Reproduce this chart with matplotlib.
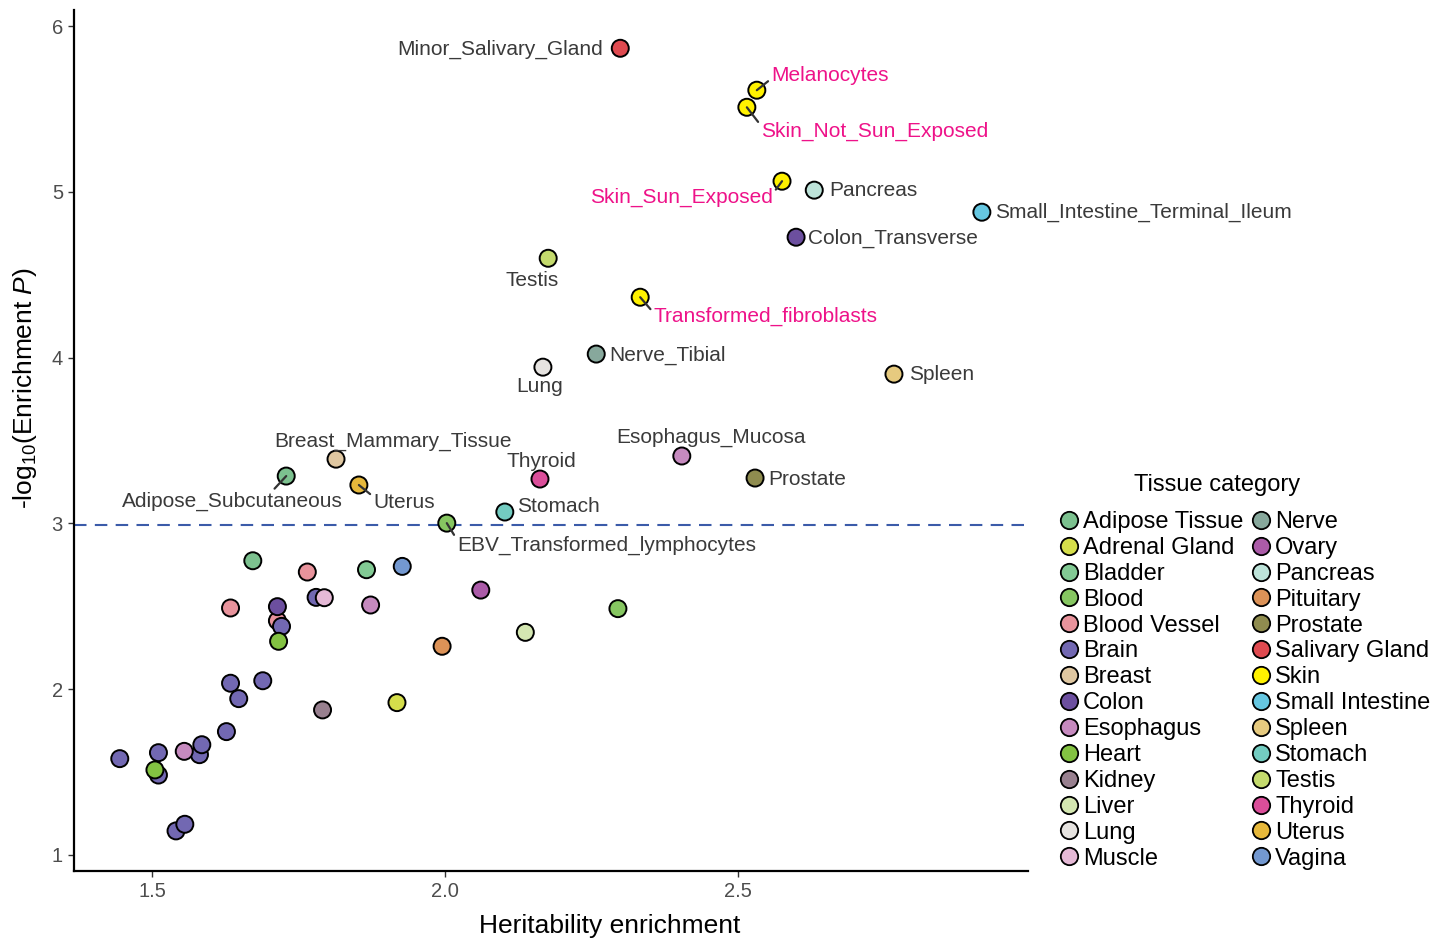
import pandas as pd
import matplotlib
matplotlib.use("Agg")
import matplotlib.pyplot as plt
from matplotlib.lines import Line2D

plt.rcParams["font.family"] = ["Liberation Sans", "DejaVu Sans"]
plt.rcParams["mathtext.fontset"] = "custom"
plt.rcParams["mathtext.rm"] = "Liberation Sans"
plt.rcParams["mathtext.it"] = "Liberation Sans:italic"

# Tissue categories and their fill colours (legend order)
categories = [
    "Adipose Tissue", "Adrenal Gland", "Bladder", "Blood", "Blood Vessel", "Brain",
    "Breast", "Colon", "Esophagus", "Heart", "Kidney", "Liver", "Lung", "Muscle",
    "Nerve", "Ovary", "Pancreas", "Pituitary", "Prostate", "Salivary Gland", "Skin",
    "Small Intestine", "Spleen", "Stomach", "Testis", "Thyroid", "Uterus", "Vagina",
]
cat_colors = [
    "#7CC18F", "#D5DE4B", "#82CA94", "#86C661", "#E8939C", "#7268B2",
    "#DFC7A1", "#6C4F9F", "#C68ABF", "#83C242", "#98808F", "#D4E7B1",
    "#E6E3E0", "#E5B9D6", "#87A89C", "#AB5BA8", "#BDE3D9", "#DC9257",
    "#8F8C4F", "#DF4A50", "#FFF100", "#66C7E1", "#E6CA7F", "#73CCC1",
    "#C4DA6D", "#DB4E9A", "#E6B83B", "#7398D0",
]

# Points: tissue category, heritability enrichment, -log10(P), label
tissue_cat = [
    "Salivary Gland", "Skin", "Skin", "Skin", "Pancreas", "Small Intestine", "Colon",
    "Testis", "Skin", "Nerve", "Lung", "Spleen", "Esophagus", "Breast", "Prostate",
    "Thyroid", "Adipose Tissue", "Uterus", "Stomach", "Blood",
    "Adipose Tissue", "Bladder", "Blood Vessel", "Blood Vessel", "Blood Vessel",
    "Vagina", "Colon",
    "Brain", "Brain", "Brain", "Brain", "Brain", "Brain", "Brain", "Brain", "Brain",
    "Brain", "Brain", "Brain", "Brain",
    "Heart", "Heart", "Muscle", "Esophagus", "Esophagus", "Pituitary", "Kidney",
    "Adrenal Gland", "Ovary", "Blood", "Liver",
]
enrichment = [
    2.299, 2.532, 2.515, 2.575, 2.630, 2.916, 2.599,
    2.176, 2.333, 2.258, 2.167, 2.766, 2.404, 1.814, 2.529,
    2.162, 1.729, 1.853, 2.102, 2.003,
    1.672, 1.866, 1.765, 1.634, 1.714,
    1.927, 1.714,
    1.721, 1.780, 1.634, 1.689, 1.648, 1.627, 1.445, 1.511, 1.581,
    1.585, 1.511, 1.541, 1.556,
    1.716, 1.505, 1.794, 1.873, 1.555, 1.995, 1.791,
    1.918, 2.061, 2.295, 2.137,
]
neglogp = [
    5.867, 5.614, 5.511, 5.065, 5.011, 4.878, 4.727,
    4.600, 4.365, 4.022, 3.943, 3.901, 3.407, 3.388, 3.274,
    3.268, 3.286, 3.232, 3.069, 3.002,
    2.775, 2.721, 2.707, 2.490, 2.413,
    2.741, 2.498,
    2.379, 2.554, 2.036, 2.051, 1.943, 1.744, 1.581, 1.617, 1.605,
    1.665, 1.482, 1.145, 1.185,
    2.289, 1.513, 2.552, 2.508, 1.625, 2.259, 1.875,
    1.919, 2.598, 2.486, 2.343,
]
labels = [
    "Minor_Salivary_Gland", "Melanocytes", "Skin_Not_Sun_Exposed", "Skin_Sun_Exposed",
    "Pancreas", "Small_Intestine_Terminal_Ileum", "Colon_Transverse",
    "Testis", "Transformed_fibroblasts", "Nerve_Tibial", "Lung", "Spleen",
    "Esophagus_Mucosa", "Breast_Mammary_Tissue", "Prostate",
    "Thyroid", "Adipose_Subcutaneous", "Uterus", "Stomach", "EBV_Transformed_lymphocytes",
] + [""] * 31

threshold = 2.99
x_ticks = [1.5, 2.0, 2.5]
y_ticks = [1, 2, 3, 4, 5, 6]

# Label placement: offset in pixels, alignment, leader-line attach point (None = no line)
label_layout = {
    "Minor_Salivary_Gland": (-17, -1, "right", None),
    "Melanocytes": (14, 15, "left", (0, 0.3)),
    "Skin_Not_Sun_Exposed": (14, -24, "left", (0, 0.8)),
    "Skin_Sun_Exposed": (-9, -16, "right", (1, 0.7)),
    "Pancreas": (15, 0, "left", None),
    "Small_Intestine_Terminal_Ileum": (13, 0, "left", None),
    "Colon_Transverse": (12, -1, "left", None),
    "Testis": (-16, -22, "center", None),
    "Transformed_fibroblasts": (13, -19, "left", (0, 0.7)),
    "Nerve_Tibial": (13, -1, "left", None),
    "Lung": (-3, -19, "center", None),
    "Spleen": (15, 0, "left", None),
    "Esophagus_Mucosa": (29, 19, "center", None),
    "Breast_Mammary_Tissue": (57, 18, "center", None),
    "Thyroid": (1, 18, "center", None),
    "Prostate": (13, -1, "left", None),
    "Adipose_Subcutaneous": (-54, -25, "center", (0.68, 1)),
    "Uterus": (14, -17, "left", (0, 0.8)),
    "Stomach": (12, 6, "left", None),
    "EBV_Transformed_lymphocytes": (10, -22, "left", (0, 0.8)),
}
skin_labels = {"Melanocytes", "Skin_Not_Sun_Exposed", "Skin_Sun_Exposed",
               "Transformed_fibroblasts"}

color_map = dict(zip(categories, cat_colors))
df = pd.DataFrame({"cat": tissue_cat, "x": enrichment, "y": neglogp, "label": labels})
df["order"] = df["cat"].map({c: i for i, c in enumerate(categories)})
df = df.sort_values("order", kind="stable")

fig = plt.figure(figsize=(14.38, 9.39), dpi=100)
ax = fig.add_axes([0.0515, 0.0724, 0.6635, 0.9166])

ax.axhline(threshold, color="#3B5BA9", lw=1.5, ls=(0, (6, 4)), zorder=1)
ax.scatter(df["x"], df["y"], s=150, c=df["cat"].map(color_map),
           edgecolors="black", linewidths=1.4, zorder=2)

for _, r in df[df["label"] != ""].iterrows():
    dx, dy, ha, rel = label_layout[r["label"]]
    col = "#EE1289" if r["label"] in skin_labels else "#3A3A3A"
    arrow = None
    if rel is not None:
        arrow = dict(arrowstyle="-", color="#333333", lw=1.6,
                     shrinkA=0, shrinkB=0, relpos=rel)
    ax.annotate(r["label"], xy=(r["x"], r["y"]), xytext=(dx, dy),
                textcoords="offset pixels", ha=ha, va="center",
                fontsize=15, color=col, arrowprops=arrow, zorder=3)

ax.set_xlim(1.367, 2.995)
ax.set_ylim(0.903, 6.096)
ax.set_xticks(x_ticks)
ax.set_xticklabels([f"{t:.1f}" for t in x_ticks])
ax.set_yticks(y_ticks)
for s in ["top", "right"]:
    ax.spines[s].set_visible(False)
for s in ["left", "bottom"]:
    ax.spines[s].set_linewidth(1.6)
ax.tick_params(axis="both", labelsize=14.5, labelcolor="#4D4D4D", color="#333333",
               length=4, width=1, pad=4)
ax.set_xlabel("Heritability enrichment", fontsize=19)
ax.set_ylabel(r"-log$_{10}$(Enrichment $\mathit{P}$)", fontsize=19)
ax.xaxis.set_label_coords(0.561, -0.05)
ax.yaxis.set_label_coords(-0.037, 0.561)

handles = [Line2D([], [], ls="none", marker="o", markersize=12.5,
                  markerfacecolor=c, markeredgecolor="black", markeredgewidth=1.3)
           for c in cat_colors]
fig.legend(handles, categories, ncol=2, loc="upper left",
           bbox_to_anchor=(1059.5 / 1438, 1 - 511 / 939), frameon=False,
           fontsize=17, handlelength=0.8, handletextpad=0.2, columnspacing=0.35,
           labelspacing=0.165, borderpad=0, borderaxespad=0)
fig.text(1217 / 1438, 1 - 485 / 939, "Tissue category", fontsize=17,
         ha="center", va="center")

fig.savefig("out.png", dpi=100)
